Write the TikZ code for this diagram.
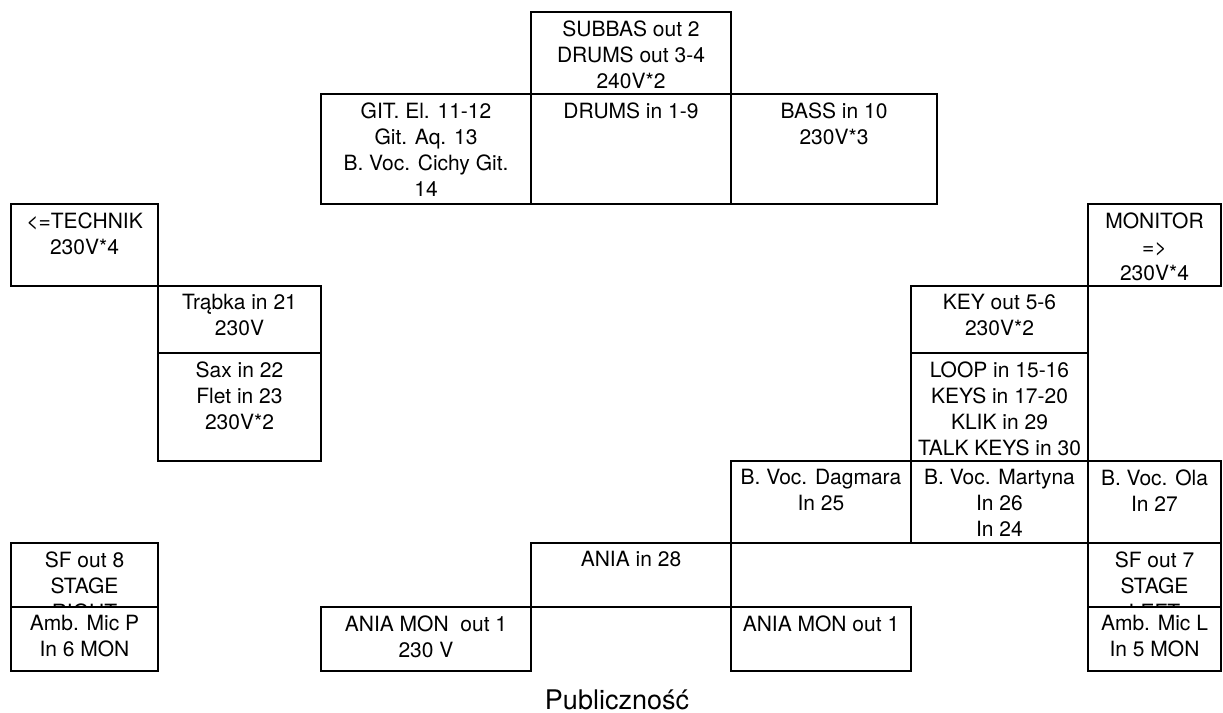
\documentclass[tikz,border=0pt]{standalone}
\usepackage{fontspec}
\setmainfont{TeX Gyre Heros}
\usepackage{tikz}
\usetikzlibrary{positioning}
\tikzset{
	slot/.style ={draw=black, line width=1.2pt, fill=white},
	slottxt/.style={anchor=north, align=center, inner sep=0pt, font=\fontsize{10.5}{13}\selectfont},
	hall/.style ={anchor=base, inner sep=0pt, font=\fontsize{13.5}{16}\selectfont},
}
\begin{document}
\begin{tikzpicture}[x=0.5pt, y=-0.5pt]
	\useasboundingbox (0,0) rectangle (1223,713);
	% back line
	\draw[slot] (531,12) rectangle (731,94);
	\node[slottxt] (sub) at (631,20) {SUBBAS out 2\\ DRUMS out 3-4\\ 240V*2};
	\draw[slot] (321,94) rectangle (531,204);
	\node[slottxt] (git) at (426,102) {GIT. El. 11-12\\ Git. Aq. 13\\ B. Voc. Cichy Git.\\ 14};
	\draw[slot] (531,94) rectangle (731,204);
	\node[slottxt] (drums) at (631,102) {DRUMS in 1-9};
	\draw[slot] (731,94) rectangle (937,204);
	\node[slottxt] (bass) at (834,102) {BASS in 10\\ 230V*3};
	% left side
	\draw[slot] (11,204) rectangle (158,286);
	\node[slottxt] (technik) at (84.5,212) {<=TECHNIK\\ 230V*4};
	\draw[slot] (158,286) rectangle (321,353);
	\node[slottxt] (trabka) at (239.5,294) {Trąbka in 21\\ 230V};
	\draw[slot] (158,353) rectangle (321,461);
	\node[slottxt] (sax) at (239.5,361) {Sax in 22\\ Flet in 23\\ 230V*2};
	% right side
	\draw[slot] (1088,204) rectangle (1221,286);
	\node[slottxt] (monitor) at (1154.5,212) {MONITOR\\ =>\\ 230V*4};
	\draw[slot] (911,286) rectangle (1088,353);
	\node[slottxt] (keyout) at (999.5,294) {KEY out 5-6\\ 230V*2};
	\draw[slot] (911,353) rectangle (1088,461);
	\node[slottxt] (keys) at (999.5,361) {LOOP in 15-16\\ KEYS in 17-20\\ KLIK in 29\\ TALK KEYS in 30};
	% backing vocals
	\draw[slot] (731,461) rectangle (911,543);
	\node[slottxt] (dagmara) at (821,469) {B. Voc. Dagmara\\ In 25};
	\draw[slot] (911,461) rectangle (1088,543);
	\node[slottxt] (martyna) at (999.5,469) {B. Voc. Martyna\\ In 26\\ In 24};
	\draw[slot] (1088,461) rectangle (1221,543);
	\node[slottxt] (ola) at (1154.5,469) {B. Voc. Ola\\ In 27};
	% front line (lower boxes cover the cut text above)
	\draw[slot] (531,543) rectangle (731,607);
	\node[slottxt] (ania) at (631,551) {ANIA in 28};
	\draw[slot] (11,543) rectangle (158,607);
	\node[slottxt] (sfright) at (84.5,551) {SF out 8\\ STAGE\\ RIGHT};
	\draw[slot] (1088,543) rectangle (1221,607);
	\node[slottxt] (sfleft) at (1154.5,551) {SF out 7\\ STAGE\\ LEFT};
	\draw[slot] (11,607) rectangle (158,671);
	\node[slottxt] (ambp) at (84.5,615) {Amb. Mic P\\ In 6 MON};
	\draw[slot] (321,607) rectangle (531,671);
	\node[slottxt] (aniamonA) at (426,615) {ANIA MON~ out 1\\ 230 V};
	\draw[slot] (731,607) rectangle (911,671);
	\node[slottxt] (aniamonB) at (821,615) {ANIA MON out 1};
	\draw[slot] (1088,607) rectangle (1221,671);
	\node[slottxt] (ambl) at (1154.5,615) {Amb. Mic L\\ In 5 MON};
	\node[hall] (public) at (617,709) {Publiczność};
\end{tikzpicture}
\end{document}
